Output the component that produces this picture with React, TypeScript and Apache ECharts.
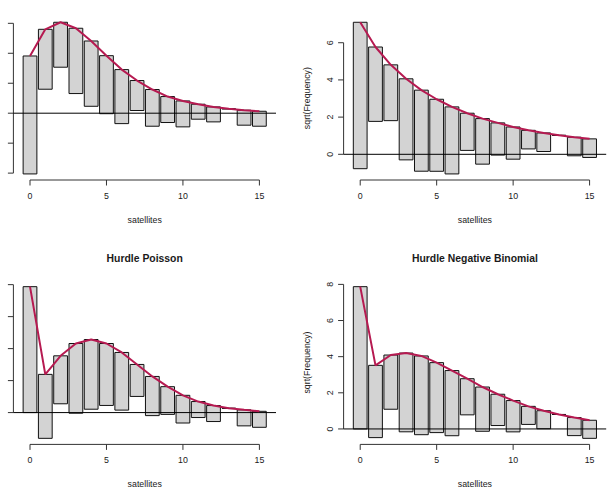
import React, { useEffect, useRef } from "react";
import * as echarts from "echarts";

// ---- data ----
const satellites = [0, 1, 2, 3, 4, 5, 6, 7, 8, 9, 10, 11, 12, 13, 14, 15];
const observedFreq = [62, 16, 9, 19, 19, 15, 13, 4, 6, 3, 3, 1, 1, 0, 1, 1];
const sqrtExpectedPoisson = [3.82, 5.6, 6.07, 5.67, 4.82, 3.84, 2.91, 2.18, 1.58, 1.11, 0.82, 0.6, 0.42, 0.29, 0.2, 0.13];
const sqrtExpectedNegBin = [7.1, 5.77, 4.81, 4.06, 3.45, 2.96, 2.55, 2.21, 1.92, 1.69, 1.47, 1.29, 1.15, 1.02, 0.92, 0.83];
const sqrtExpectedHurdlePoisson = [7.874, 2.39, 3.55, 4.32, 4.57, 4.32, 3.76, 3.01, 2.26, 1.62, 1.08, 0.69, 0.44, 0.27, 0.17, 0.08];
const sqrtExpectedHurdleNegBin = [7.874, 3.52, 4.09, 4.2, 4.04, 3.67, 3.23, 2.78, 2.32, 1.92, 1.57, 1.25, 1.01, 0.8, 0.63, 0.48];
const xTickLabels = [0, 5, 10, 15];
const yTicksPoisson = [-4, -2, 0, 2, 4, 6];
const yTicksNegBin = [0, 2, 4, 6];
const yTicksHurdlePoisson = [0, 2, 4, 6, 8];
const yTicksHurdleNegBin = [0, 2, 4, 6, 8];
const panelTitles = ["", "", "Hurdle Poisson", "Hurdle Negative Binomial"];

// ---- styling / layout ----
const FONT = '"Liberation Sans", Arial, Helvetica, sans-serif';
const TEXT = "#1a1a1a";
const AXIS = "#333333";
const LINE_COL = "#B61A51";
const BAR_FILL = "#D3D3D3";
const BAR_HALF = 0.45;
const GRID_LEFT = [13.4, 343.6];
const GRID_TOP = [16.2, 280.6];
const GRID_W = 262.6;
const GRID_H = 163.8;
const TICK_LEN = 5.5;

export default function App() {
  const ref = useRef<HTMLDivElement>(null);

  useEffect(() => {
    if (!ref.current) return;
    const chart = echarts.init(ref.current, undefined, { renderer: "svg" });

    const panels = [
      { exp: sqrtExpectedPoisson, ticks: yTicksPoisson },
      { exp: sqrtExpectedNegBin, ticks: yTicksNegBin },
      { exp: sqrtExpectedHurdlePoisson, ticks: yTicksHurdlePoisson },
      { exp: sqrtExpectedHurdleNegBin, ticks: yTicksHurdleNegBin },
    ];

    const xMinData = satellites[0] - BAR_HALF;
    const xMaxData = satellites[satellites.length - 1] + BAR_HALF;
    const xlo = xMinData - 0.04 * (xMaxData - xMinData);
    const xhi = xMaxData + 0.04 * (xMaxData - xMinData);

    const grids: any[] = [];
    const xAxes: any[] = [];
    const yAxes: any[] = [];
    const series: any[] = [];
    const graphics: any[] = [];

    panels.forEach((p, i) => {
      const col = i % 2;
      const row = Math.floor(i / 2);
      // the left column's y-axis texts lie outside the picture in the reference
      const showYText = col === 1;
      const bars = satellites.map((x, k) => [x, p.exp[k], p.exp[k] - Math.sqrt(observedFreq[k])]);
      const lo = Math.min(...bars.map((b) => b[2]));
      const hi = Math.max(...bars.map((b) => b[1]));
      const ylo = lo - 0.04 * (hi - lo);
      const yhi = hi + 0.04 * (hi - lo);

      grids.push({
        left: GRID_LEFT[col],
        top: GRID_TOP[row],
        width: GRID_W,
        height: GRID_H,
        containLabel: false,
        outerBoundsMode: "none",
      });

      xAxes.push({
        gridIndex: i,
        type: "value",
        min: xlo,
        max: xhi,
        axisLine: { show: false },
        splitLine: { show: false },
        axisTick: { show: false },
        axisLabel: { customValues: xTickLabels, margin: 11, fontSize: 8.8, color: TEXT, fontFamily: FONT },
        name: "satellites",
        nameLocation: "middle",
        nameGap: 35,
        nameTextStyle: { fontSize: 8.8, color: TEXT, fontFamily: FONT },
      });

      yAxes.push({
        gridIndex: i,
        type: "value",
        min: ylo,
        max: yhi,
        axisLine: { show: false },
        splitLine: { show: false },
        axisTick: { show: false },
        axisLabel: {
          show: showYText,
          customValues: p.ticks,
          rotate: 90,
          margin: 9,
          fontSize: 8.8,
          color: TEXT,
          fontFamily: FONT,
        },
        name: showYText ? "sqrt(Frequency)" : "",
        nameLocation: "middle",
        nameRotate: 90,
        nameGap: 32.5,
        nameTextStyle: { fontSize: 8.8, color: TEXT, fontFamily: FONT },
      });

      // hanging rootogram bars
      series.push({
        type: "custom",
        xAxisIndex: i,
        yAxisIndex: i,
        data: bars,
        encode: { x: 0, y: [1, 2] },
        silent: true,
        renderItem: (params: any, api: any) => {
          const x = api.value(0);
          const top = api.value(1);
          const bot = api.value(2);
          const p1 = api.coord([x - BAR_HALF, top]);
          const p2 = api.coord([x + BAR_HALF, bot]);
          return {
            type: "rect",
            shape: { x: p1[0], y: p1[1], width: p2[0] - p1[0], height: p2[1] - p1[1] },
            style: { fill: BAR_FILL, stroke: "#111", lineWidth: 1 },
          };
        },
      });

      // reference line at 0
      series.push({
        type: "line",
        xAxisIndex: i,
        yAxisIndex: i,
        data: [[xlo, 0], [xhi, 0]],
        symbol: "none",
        silent: true,
        lineStyle: { color: "#000", width: 1 },
      });

      // fitted curve
      series.push({
        type: "line",
        xAxisIndex: i,
        yAxisIndex: i,
        data: satellites.map((x, k) => [x, p.exp[k]]),
        symbol: "none",
        silent: true,
        lineStyle: { color: LINE_COL, width: 2 },
      });

      // R-style axes: lines spanning first to last tick, outward ticks
      const ticks = p.ticks;
      series.push({
        type: "custom",
        xAxisIndex: i,
        yAxisIndex: i,
        data: [[0, 0]],
        silent: true,
        clip: false,
        renderItem: (params: any, api: any) => {
          const st = { stroke: AXIS, lineWidth: 1 };
          const children: any[] = [];
          const a = api.coord([xTickLabels[0], ylo]);
          const b = api.coord([xTickLabels[xTickLabels.length - 1], ylo]);
          children.push({ type: "line", shape: { x1: a[0], y1: a[1], x2: b[0], y2: b[1] }, style: st });
          xTickLabels.forEach((t) => {
            const q = api.coord([t, ylo]);
            children.push({ type: "line", shape: { x1: q[0], y1: q[1], x2: q[0], y2: q[1] + TICK_LEN }, style: st });
          });
          const c = api.coord([xlo, ticks[0]]);
          const d = api.coord([xlo, ticks[ticks.length - 1]]);
          children.push({ type: "line", shape: { x1: c[0], y1: c[1], x2: d[0], y2: d[1] }, style: st });
          ticks.forEach((t) => {
            const q = api.coord([xlo, t]);
            children.push({ type: "line", shape: { x1: q[0] - TICK_LEN, y1: q[1], x2: q[0], y2: q[1] }, style: st });
          });
          return { type: "group", children };
        },
      });

      if (panelTitles[i]) {
        graphics.push({
          type: "text",
          x: GRID_LEFT[col] + GRID_W / 2,
          y: GRID_TOP[row] - 22.3,
          style: {
            text: panelTitles[i],
            fontSize: 10.4,
            fontWeight: "bold",
            fontFamily: FONT,
            fill: TEXT,
            align: "center",
            verticalAlign: "middle",
          },
        });
      }
    });

    chart.setOption({
      animation: false,
      backgroundColor: "#ffffff",
      grid: grids,
      xAxis: xAxes,
      yAxis: yAxes,
      series,
      graphic: graphics,
    });

    return () => chart.dispose();
  }, []);

  return (
    <div
      ref={ref}
      style={{ position: "fixed", left: 0, top: 0, width: 612, height: 489, background: "#fff" }}
    />
  );
}
